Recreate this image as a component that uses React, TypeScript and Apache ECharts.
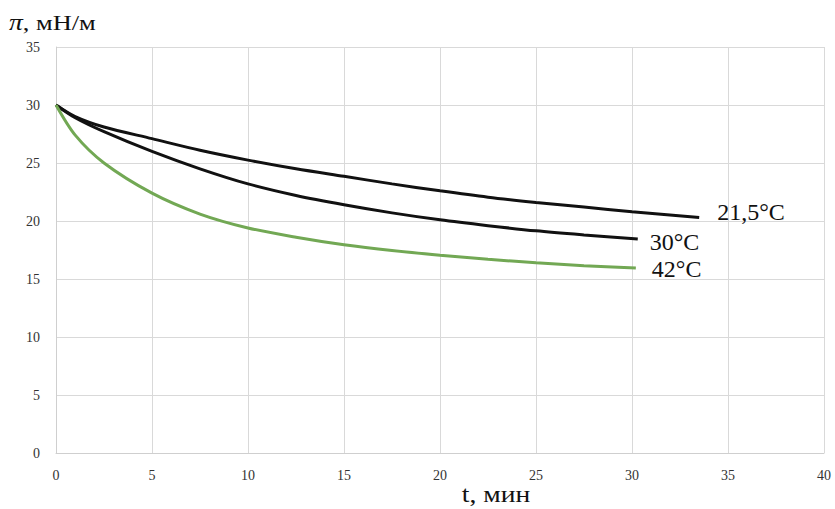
import React, { useEffect, useRef } from "react";
import * as echarts from "echarts";

const tValues = [0, 1, 2.5, 5, 7.5, 10, 12.5, 15, 17.5, 20, 22.5, 25, 27.5, 30, 33.5];
const series215 = [30, 29.0, 28.1, 27.1, 26.1, 25.25, 24.5, 23.85, 23.2, 22.6, 22.05, 21.6, 21.2, 20.8, 20.3];
const tValues30 = [0, 1, 2.5, 5, 7.5, 10, 12.5, 15, 17.5, 20, 22.5, 25, 27.5, 30.3];
const series30 = [30, 28.9, 27.7, 26.0, 24.5, 23.2, 22.2, 21.4, 20.7, 20.1, 19.6, 19.15, 18.8, 18.45];
const tValues42 = [0, 1, 2.5, 5, 7.5, 10, 12.5, 15, 17.5, 20, 22.5, 25, 27.5, 30.2];
const series42 = [30, 27.4, 25.0, 22.4, 20.6, 19.4, 18.6, 17.95, 17.45, 17.05, 16.7, 16.4, 16.15, 15.95];
const seriesNames = ["21,5°C", "30°C", "42°C"];
const xTicks = [0, 5, 10, 15, 20, 25, 30, 35, 40];
const axisTitleX = "t, мин";
const axisTitleY = ["π", ", мН/м"];

const serif = "'Liberation Serif', 'DejaVu Serif', serif";

export default function App() {
  const ref = useRef<HTMLDivElement>(null);
  useEffect(() => {
    document.body.style.margin = "0";
    const chart = echarts.init(ref.current!, null, { renderer: "svg" });
    const mk = (xs: number[], ys: number[]) => xs.map((x, i) => [x, ys[i]]);
    const lbl = (dx: number, dy: number) => ({
      show: true,
      formatter: "{a}",
      color: "#111",
      fontFamily: serif,
      fontSize: 24,
      offset: [dx, dy],
    });
    chart.setOption({
      animation: false,
      grid: { left: 56, right: 11, top: 47, bottom: 56 },
      xAxis: {
        type: "value",
        min: 0,
        max: 40,
        interval: 5,
        axisLine: { show: true, lineStyle: { color: "#cfcfcf" } },
        axisTick: { show: false },
        axisLabel: {
          fontFamily: serif,
          fontSize: 14,
          color: "#333",
          margin: 15,
          formatter: (v: number) => (xTicks.includes(v) ? String(v) : ""),
        },
        splitLine: { show: true, lineStyle: { color: "#d9d9d9" } },
      },
      yAxis: {
        type: "value",
        min: 0,
        max: 35,
        interval: 5,
        axisLine: { show: true, lineStyle: { color: "#cfcfcf" } },
        axisTick: { show: false },
        axisLabel: { fontFamily: serif, fontSize: 14, color: "#333", margin: 16 },
        splitLine: { show: true, lineStyle: { color: "#d9d9d9" } },
      },
      graphic: [
        {
          type: "text",
          x: 9,
          y: 22,
          scaleX: 1.2,
          style: {
            rich: {
              p: { fontFamily: serif, fontStyle: "italic", fontSize: 23, fill: "#111" },
              t: { fontFamily: serif, fontSize: 22, fill: "#111" },
            },
            text: `{p|${axisTitleY[0]}}{t|${axisTitleY[1]}}`,
            verticalAlign: "middle",
          },
        },
        {
          type: "text",
          x: 496,
          y: 494,
          scaleX: 1.2,
          style: {
            text: axisTitleX,
            fontFamily: serif,
            fontSize: 23,
            fill: "#111",
            align: "center",
            verticalAlign: "middle",
          },
        },
      ],
      series: [
        {
          name: seriesNames[0],
          type: "line",
          smooth: 0.3,
          showSymbol: false,
          data: mk(tValues, series215),
          lineStyle: { color: "#111", width: 3 },
          endLabel: lbl(10, -6),
        },
        {
          name: seriesNames[1],
          type: "line",
          smooth: 0.3,
          showSymbol: false,
          data: mk(tValues30, series30),
          lineStyle: { color: "#111", width: 3 },
          endLabel: lbl(4, 3),
        },
        {
          name: seriesNames[2],
          type: "line",
          smooth: 0.3,
          showSymbol: false,
          data: mk(tValues42, series42),
          lineStyle: { color: "#72a854", width: 3 },
          endLabel: lbl(8, 1),
        },
      ],
    });
    return () => chart.dispose();
  }, []);
  return <div ref={ref} style={{ width: 835, height: 509 }} />;
}
